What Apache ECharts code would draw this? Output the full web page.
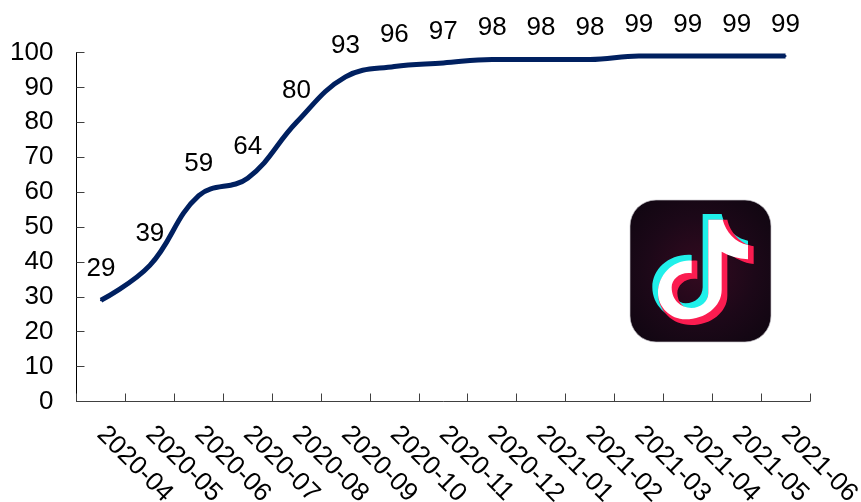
<!DOCTYPE html>
<html>
<head>
<meta charset="utf-8">
<style>html,body{margin:0;padding:0;background:#fff}#chart{width:861px;height:502px}</style>
<script src="https://cdn.jsdelivr.net/npm/echarts@6/dist/echarts.min.js"></script>
</head>
<body>
<div id="chart"></div>
<script>
const months = ['2020-04','2020-05','2020-06','2020-07','2020-08','2020-09','2020-10','2020-11','2020-12','2021-01','2021-02','2021-03','2021-04','2021-05','2021-06'];
const share = [29,39,59,64,80,93,96,97,98,98,98,99,99,99,99];
const yTicks = {min:0,max:100,interval:10};

// Music-note app icon, outlines in a 480-unit box scaled down by three
const noteOutline = 'M248,72 L305,72 C313,110 345,145 384,152 L384,205 C355,203 328,188 305,170 L305,300 C305,350 255,388 197,388 C140,388 97,345 97,292 C97,235 150,190 215,195 L215,250 C180,245 155,268 155,292 C155,320 175,340 197,340 C225,340 248,320 248,292 Z';
const noteCore = 'M265,89 L308,89 C318,125 345,158 384,165 L384,208 C355,206 328,198 305,185 L305,300 C305,350 255,388 197,388 C150,388 114,350 114,309 C114,255 160,208 215,212 L215,250 C180,245 155,268 155,292 C155,312 163,328 172,337 C183,348 198,354 214,354 C242,354 265,335 265,309 Z';
echarts.graphic.registerShape('noteOutline', echarts.graphic.extendPath(noteOutline, {}));
echarts.graphic.registerShape('noteCore', echarts.graphic.extendPath(noteCore, {}));

const chart = echarts.init(document.getElementById('chart'), null, {renderer:'canvas'});
const font = '"Liberation Sans", Arial, sans-serif';
chart.setOption({
  animation:false,
  backgroundColor:'#fff',
  grid:{left:76.5,right:51,top:52.5,bottom:100.5,containLabel:false,outerBoundsMode:'none'},
  xAxis:{
    type:'category',data:months,boundaryGap:true,
    axisLine:{lineStyle:{color:'#404040',width:1}},
    axisTick:{show:true,inside:true,length:8,interval:0,lineStyle:{color:'#404040',width:1},alignWithLabel:false},
    axisLabel:{rotate:-45,interval:0,color:'#000',fontFamily:font,fontSize:26,margin:29},
    splitLine:{show:false}
  },
  yAxis:{
    type:'value',min:yTicks.min,max:yTicks.max,interval:yTicks.interval,
    axisLine:{show:true,lineStyle:{color:'#000',width:1}},
    axisTick:{show:true,inside:true,length:8,lineStyle:{color:'#404040',width:1}},
    axisLabel:{color:'#000',fontFamily:font,fontSize:26,margin:23,padding:[2,0,0,0]},
    splitLine:{show:false}
  },
  series:[{
    type:'line',data:share,smooth:0.4,symbol:'circle',symbolSize:2,showSymbol:true,showAllSymbol:true,clip:false,
    lineStyle:{color:'#002060',width:5},
    itemStyle:{color:'#002060'},
    label:{show:true,position:'top',distance:17.5,color:'#000',fontFamily:font,fontSize:26}
  }],
  graphic:[{
    type:'group',x:620,y:190,scaleX:1/3,scaleY:1/3,
    children:[
      {type:'rect',shape:{x:30,y:30,width:423,height:426,r:78},
       style:{fill:{type:'radial',x:0.5,y:0.5,r:0.7,colorStops:[{offset:0,color:'#340a20'},{offset:0.55,color:'#1c0818'},{offset:1,color:'#0e0610'}]},stroke:'#c9c6cc',lineWidth:2}},
      {type:'noteOutline',style:{fill:'#20f0ea'}},
      {type:'noteOutline',x:17,y:17,style:{fill:'#fb1c50'}},
      {type:'noteCore',style:{fill:'#ffffff'}}
    ]
  }]
});
</script>
</body>
</html>
